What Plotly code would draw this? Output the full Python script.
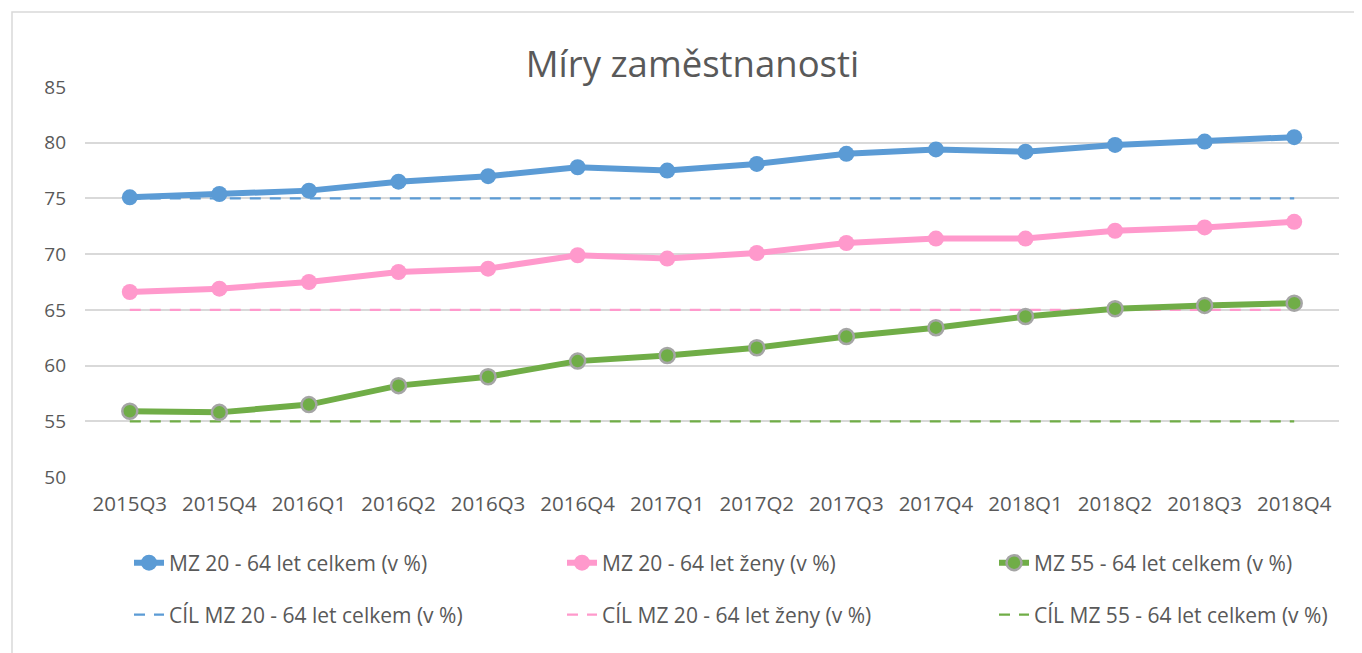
import plotly.graph_objects as go

categories = ["2015Q3", "2015Q4", "2016Q1", "2016Q2", "2016Q3", "2016Q4", "2017Q1",
              "2017Q2", "2017Q3", "2017Q4", "2018Q1", "2018Q2", "2018Q3", "2018Q4"]

mz_20_64_total = [75.1, 75.4, 75.7, 76.5, 77.0, 77.8, 77.5, 78.1, 79.0, 79.4, 79.2, 79.8, 80.1, 80.5]
mz_20_64_women = [66.6, 66.9, 67.5, 68.4, 68.7, 69.9, 69.6, 70.1, 71.0, 71.4, 71.4, 72.1, 72.4, 72.9]
mz_55_64_total = [55.9, 55.8, 56.5, 58.2, 59.0, 60.4, 60.9, 61.6, 62.6, 63.4, 64.4, 65.1, 65.4, 65.6]

target_20_64_total = [75] * 14
target_20_64_women = [65] * 14
target_55_64_total = [55] * 14

y_ticks = [50, 55, 60, 65, 70, 75, 80, 85]

BLUE = "#5B9BD5"
PINK = "#FF99CC"
GREEN = "#70AD47"
TXT = "#595959"
GRID = "#D9D9D9"
FONT = "Open Sans"

OFF = 8  # page body margin offset
W, H = 1362, 653
L, T = 85 - OFF, 87 - OFF
pw, ph = 1254, 390
R, B = W - L - pw, H - T - ph

def px_x(p):
    return (p - OFF - L) / pw

def px_y(p):
    return (T + ph - (p - OFF)) / ph

fig = go.Figure()

# targets (dashed) drawn first, below main lines
fig.add_trace(go.Scatter(x=categories, y=target_20_64_total, mode="lines",
                         name="CÍL MZ 20 - 64 let celkem (v %)",
                         line=dict(color=BLUE, width=2.3, dash="11px,9px"), legend="legend4"))
fig.add_trace(go.Scatter(x=categories, y=target_20_64_women, mode="lines",
                         name="CÍL MZ 20 - 64 let ženy (v %)",
                         line=dict(color=PINK, width=2.3, dash="11px,9px"), legend="legend5"))
fig.add_trace(go.Scatter(x=categories, y=target_55_64_total, mode="lines",
                         name="CÍL MZ 55 - 64 let celkem (v %)",
                         line=dict(color=GREEN, width=2.3, dash="11px,9px"), legend="legend6"))

fig.add_trace(go.Scatter(x=categories, y=mz_20_64_total, mode="lines+markers",
                         name="MZ 20 - 64 let celkem (v %)",
                         line=dict(color=BLUE, width=6),
                         marker=dict(size=16, color=BLUE, line=dict(width=0)), legend="legend"))
fig.add_trace(go.Scatter(x=categories, y=mz_20_64_women, mode="lines+markers",
                         name="MZ 20 - 64 let ženy (v %)",
                         line=dict(color=PINK, width=6),
                         marker=dict(size=16, color=PINK, line=dict(width=0)), legend="legend2"))
fig.add_trace(go.Scatter(x=categories, y=mz_55_64_total, mode="lines+markers",
                         name="MZ 55 - 64 let celkem (v %)",
                         line=dict(color=GREEN, width=6),
                         marker=dict(size=15, color=GREEN, line=dict(width=2.5, color="#A5A5A5")),
                         legend="legend3"))

legend_common = dict(orientation="v", xanchor="left", yanchor="middle",
                     bgcolor="rgba(0,0,0,0)", borderwidth=0,
                     font=dict(family=FONT, size=21, color=TXT), itemwidth=30)

col_x = [129, 562, 994]
row_y = [563, 615]
legends = {}
names = ["legend", "legend2", "legend3", "legend4", "legend5", "legend6"]
for i, nm in enumerate(names):
    legends[nm] = dict(x=px_x(col_x[i % 3]), y=px_y(row_y[i // 3]), **legend_common)

fig.update_layout(
    width=W, height=H,
    margin=dict(l=L, r=R, t=T, b=B, autoexpand=False),
    paper_bgcolor="white", plot_bgcolor="white",
    font=dict(family=FONT, size=20, color=TXT),
    showlegend=True,
    **legends,
    xaxis=dict(type="category", range=[-0.5, 13.5], showgrid=False, zeroline=False,
               showline=False, ticks="", tickfont=dict(family=FONT, size=20.5, color=TXT),
               ticklabelstandoff=12, fixedrange=True, automargin=False),
    yaxis=dict(range=[50, 85], tickvals=y_ticks, showgrid=True, gridcolor=GRID, gridwidth=1.5,
               zeroline=False, showline=False, ticks="",
               tickfont=dict(family=FONT, size=19, color=TXT), ticklabelstandoff=18,
               fixedrange=True, automargin=False),
    annotations=[dict(text="Míry zaměstnanosti", xref="paper", yref="paper",
                      x=px_x(692), y=px_y(63), xanchor="center", yanchor="middle",
                      showarrow=False, bgcolor="white", width=345, borderpad=5,
                      font=dict(family=FONT, size=36.5, color=TXT))],
    shapes=[dict(type="rect", xref="paper", yref="paper", layer="below",
                 x0=px_x(12), y0=-1.0, x1=1.2, y1=px_y(12),
                 line=dict(color=GRID, width=1.5), fillcolor="rgba(0,0,0,0)")],
)

fig.write_html("out.html")
